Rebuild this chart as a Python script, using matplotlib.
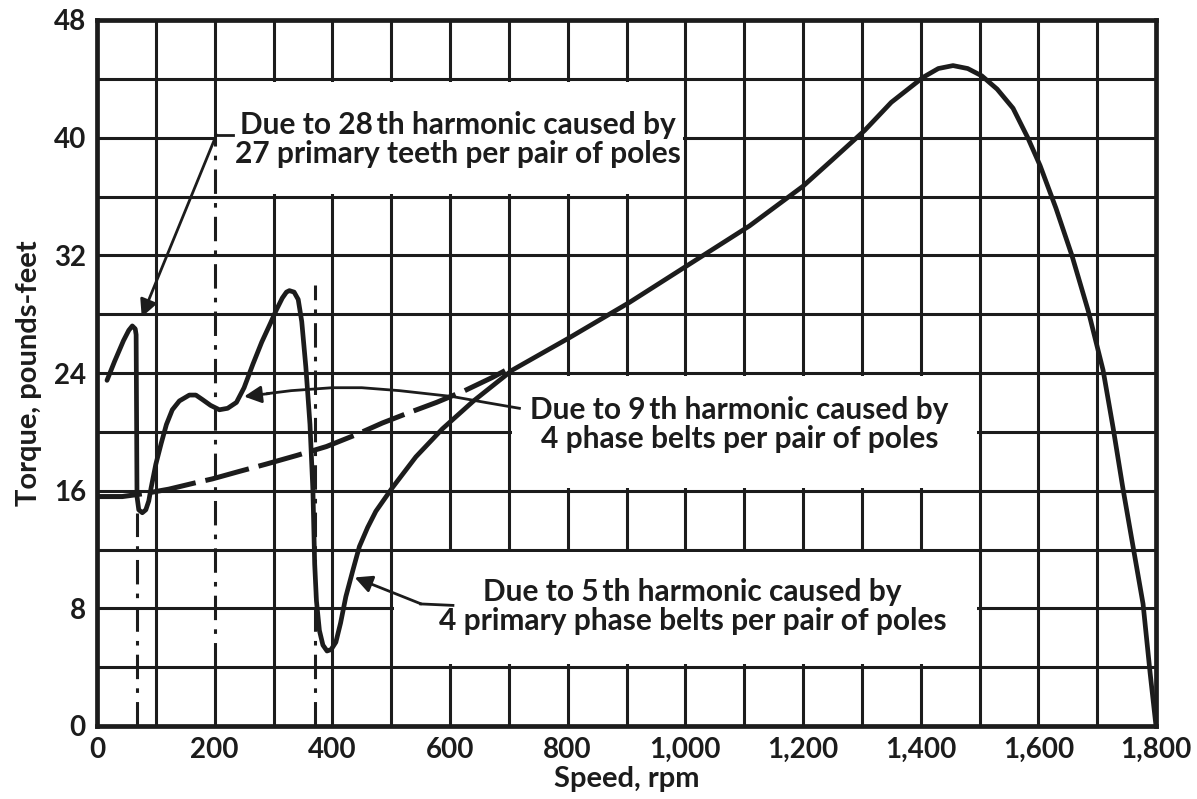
import matplotlib as mpl

mpl.use("Agg")
import matplotlib.pyplot as plt
from matplotlib.patches import Rectangle

# torque-speed curve
speed = [17, 30, 45, 54, 60, 65, 66.5, 68, 71, 77, 83, 88, 92, 100, 109, 118,
         128, 140, 157, 168, 179, 193, 208, 222, 237, 250, 265, 280, 295, 305,
         315, 322, 327, 335, 342, 348, 355, 362, 367, 370, 373, 378, 384, 391,
         398, 406, 414, 423, 435, 446, 460, 474, 502, 542, 587, 640, 706, 803,
         905, 1007, 1109, 1200, 1250, 1305, 1350, 1404, 1430, 1455, 1480, 1504,
         1530, 1557, 1582, 1603, 1630, 1657, 1685, 1710, 1727, 1744, 1761, 1778,
         1790, 1800]
torque = [23.5, 24.8, 26.2, 26.9, 27.2, 27.0, 26.6, 15.6, 14.7, 14.5, 14.7,
          15.3, 16.2, 17.8, 19.2, 20.5, 21.5, 22.1, 22.5, 22.5, 22.2, 21.8,
          21.5, 21.6, 22.0, 23.0, 24.6, 26.1, 27.4, 28.3, 29.1, 29.5, 29.6,
          29.5, 29.0, 27.5, 24.4, 20.5, 16.0, 11.0, 8.5, 6.5, 5.5, 5.1, 5.2,
          5.7, 7.0, 8.8, 10.6, 12.2, 13.5, 14.6, 16.2, 18.3, 20.2, 22.1, 24.2,
          26.4, 28.8, 31.4, 34.0, 36.7, 38.5, 40.5, 42.4, 44.1, 44.7, 44.9,
          44.7, 44.2, 43.3, 42.0, 40.0, 38.1, 35.2, 32.0, 28.2, 24.2, 20.3,
          16.1, 12.2, 8.3, 3.6, 0.0]

# dashed curve (torque without the harmonic dips)
fund_speed = [0, 43, 80, 122, 174, 196, 241, 287, 340, 390, 440, 485, 530,
              577, 625, 672, 700]
fund_torque = [15.6, 15.6, 15.8, 16.1, 16.6, 16.8, 17.3, 17.8, 18.4, 19.0,
               19.8, 20.6, 21.3, 22.0, 22.8, 23.7, 24.3]

# leader drawn for the 9th harmonic label
lead9_speed = [718, 660, 604, 514, 450, 400, 330, 290]
lead9_torque = [21.6, 22.0, 22.4, 22.8, 23.0, 23.0, 22.8, 22.6]

x_ticks = [0, 200, 400, 600, 800, 1000, 1200, 1400, 1600, 1800]
x_tick_labels = ["0", "200", "400", "600", "800", "1,000", "1,200", "1,400",
                 "1,600", "1,800"]
y_ticks = [0, 8, 16, 24, 32, 40, 48]

INK = "#1c1c1c"
plt.rcParams["font.family"] = ["Lato", "DejaVu Sans"]
plt.rcParams["font.weight"] = "bold"

fig = plt.figure(figsize=(11.97, 7.99), dpi=100)
ax = fig.add_axes([97 / 1197, 73 / 799, 1059 / 1197, 706 / 799])
ax.set_xlim(0, 1800)
ax.set_ylim(0, 48)

# hand drawn grid
for gx in range(100, 1800, 100):
    if gx == 200:
        continue
    ax.axvline(gx, color=INK, lw=2.2, zorder=1)
for gy in range(4, 48, 4):
    ax.axhline(gy, color=INK, lw=2.2, zorder=1)
ax.plot([200, 200], [0, 4], color=INK, lw=2.2, zorder=1)
ax.plot([200, 200], [40, 48], color=INK, lw=2.2, zorder=1)

# white patches behind the labels
for (x0, y0, w, h) in [(204, 36.2, 792, 7.6), (705, 16.2, 790, 7.6),
                       (504, 4.2, 991, 7.6)]:
    ax.add_patch(Rectangle((x0, y0), w, h, facecolor="white",
                           edgecolor="none", zorder=1.5))

# dash-dot construction lines
for vx, bot, top in [(68, 0, 14.5), (200, 4, 40), (370, 0, 30)]:
    ax.plot([vx, vx], [bot, top], color=INK, lw=2.2,
            dashes=(8, 3, 1.5, 3), zorder=2)

ax.plot(fund_speed, fund_torque, color=INK, lw=3.6, dashes=(9, 2),
        solid_capstyle="butt", zorder=3)
ax.plot(speed, torque, color=INK, lw=3.4, solid_joinstyle="round",
        solid_capstyle="round", zorder=3)

# leaders
arrow = dict(arrowstyle="-|>", color=INK, lw=2.0, mutation_scale=26,
             shrinkA=0, shrinkB=0)
ax.plot([232, 203], [40.2, 40.2], color=INK, lw=2.0, zorder=3)
ax.annotate("", xy=(76, 27.8), xytext=(203, 40.2), arrowprops=arrow,
            zorder=3)
ax.plot(lead9_speed, lead9_torque, color=INK, lw=2.0, zorder=3)
ax.annotate("", xy=(250, 22.4), xytext=(292, 22.6), arrowprops=arrow,
            zorder=3)
ax.plot([605, 550], [8.2, 8.3], color=INK, lw=2.0, zorder=3)
ax.annotate("", xy=(438, 10.1), xytext=(551, 8.3), arrowprops=arrow,
            zorder=3)

txt = dict(ha="center", va="center", fontsize=21.5, color=INK,
           linespacing=1.05, zorder=4)
ax.text(614, 39.9, "Due to 28\u2009th harmonic caused by\n"
        "27 primary teeth per pair of poles", **txt)
ax.text(1092, 20.5, "Due to 9\u2009th harmonic caused by\n"
        "4 phase belts per pair of poles", **txt)
ax.text(1012, 8.1, "Due to 5\u2009th harmonic caused by\n"
        "4 primary phase belts per pair of poles", **txt)

ax.set_xticks(x_ticks)
ax.set_xticklabels(x_tick_labels)
ax.set_yticks(y_ticks)
ax.tick_params(length=0, labelsize=20, colors=INK, pad=8)
ax.set_xlabel("Speed, rpm", fontsize=21, fontweight="bold", color=INK,
              labelpad=2)
ax.set_ylabel("Torque, pounds-feet", fontsize=21, fontweight="bold",
              color=INK, labelpad=8)
for sp in ax.spines.values():
    sp.set_linewidth(3.4)
    sp.set_color(INK)
    sp.set_zorder(5)

fig.savefig("out.png", dpi=100)
